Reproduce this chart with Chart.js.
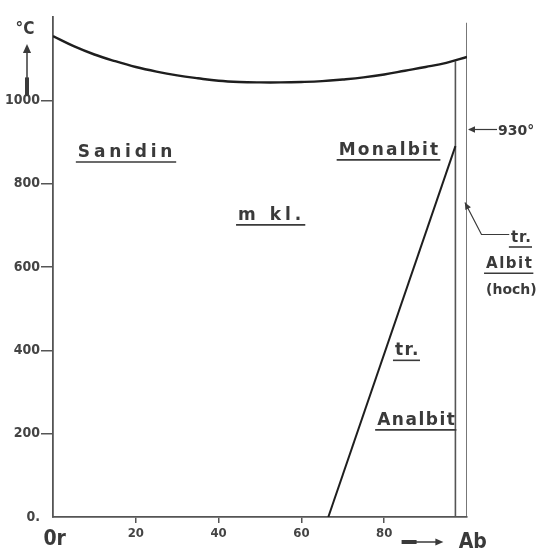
<!DOCTYPE html>
<html>
<head>
<meta charset="utf-8">
<script src="https://cdn.jsdelivr.net/npm/chart.js@4.4.1/dist/chart.umd.min.js"></script>
<style>
  html, body { margin: 0; padding: 0; background: #fff; }
  #wrap { width: 540px; height: 549px; position: relative; }
</style>
</head>
<body>
<div id="wrap"><canvas id="phase-chart"></canvas></div>
<script>
// --- DATA ---
const tempTicks = [0, 200, 400, 600, 800, 1000];
const compTicks = [20, 40, 60, 80];

// upper boundary curve across the diagram
const upperComp = [0, 5, 10, 15, 20, 25, 30, 35, 40, 45, 50, 55, 60, 65, 70, 75, 80, 85, 90, 95, 100];
const upperTemp = [1154, 1130, 1110, 1094, 1080, 1069, 1060, 1053, 1047, 1044, 1043, 1043, 1044, 1046, 1050, 1055, 1062, 1071, 1080, 1090, 1104];

// monoclinic / triclinic transition
const transComp = [66.5, 97.2];
const transTemp = [0, 890];

// high albit field borders
const innerComp = [97.2, 97.2];
const innerTemp = [0, 1094];
const outerComp = [100, 100];
const outerTemp = [0, 1186];

// --- HELPERS ---
function toPoints(xs, ys) {
    return xs.map((x, i) => ({ x: x, y: ys[i] }));
}

function lineSet(xs, ys, color, width, tension) {
    return {
        data: toPoints(xs, ys),
        showLine: true,
        borderColor: color,
        borderWidth: width,
        pointRadius: 0,
        tension: tension || 0,
        fill: false
    };
}

function arrowHead(ctx, x, y, angle, size) {
    ctx.save();
    ctx.translate(x, y);
    ctx.rotate(angle);
    ctx.beginPath();
    ctx.moveTo(0, 0);
    ctx.lineTo(-size, -size * 0.45);
    ctx.lineTo(-size, size * 0.45);
    ctx.closePath();
    ctx.fill();
    ctx.restore();
}

// labels placed in data units (composition, temperature)
const fieldLabels = [
    { text: 'Sanidin', x: 6.0, y: 864, size: 17, spacing: 3.8, line: true },
    { text: 'm kl.', x: 44.7, y: 713, size: 17, spacing: 4, line: true },
    { text: 'Monalbit', x: 69.0, y: 869, size: 17, spacing: 2.2, line: true },
    { text: 'tr.', x: 82.6, y: 388, size: 17, spacing: 1.5, line: true },
    { text: 'Analbit', x: 78.3, y: 221, size: 17, spacing: 1.5, line: true },
    { text: '930°', x: 107.5, y: 917, size: 14, spacing: 0, line: false },
    { text: 'tr.', x: 110.6, y: 660, size: 15, spacing: 1, line: true },
    { text: 'Albit', x: 104.6, y: 597, size: 15, spacing: 1.5, line: true },
    { text: '(hoch)', x: 104.6, y: 535, size: 14, spacing: 0, line: false }
];

const annotationPlugin = {
    id: 'annotations',
    afterDraw(chart) {
        const ctx = chart.ctx;
        const xs = chart.scales.x;
        const ys = chart.scales.y;
        const ink = '#3a3a3a';
        ctx.save();
        ctx.fillStyle = ink;
        ctx.strokeStyle = ink;
        ctx.textBaseline = 'alphabetic';
        ctx.textAlign = 'left';

        fieldLabels.forEach(lbl => {
            ctx.font = `bold ${lbl.size}px "DejaVu Sans"`;
            ctx.letterSpacing = lbl.spacing + 'px';
            const px = xs.getPixelForValue(lbl.x);
            const py = ys.getPixelForValue(lbl.y);
            ctx.fillText(lbl.text, px, py);
            if (lbl.line) {
                const w = ctx.measureText(lbl.text).width;
                ctx.lineWidth = 1.6;
                ctx.beginPath();
                ctx.moveTo(px - 2, py + 5);
                ctx.lineTo(px + w, py + 5);
                ctx.stroke();
            }
        });
        ctx.letterSpacing = '0px';

        // 930° pointer
        const outerX = xs.getPixelForValue(100);
        const y930 = ys.getPixelForValue(930);
        ctx.lineWidth = 1.2;
        ctx.beginPath();
        ctx.moveTo(outerX + 2, y930);
        ctx.lineTo(outerX + 30, y930);
        ctx.stroke();
        arrowHead(ctx, outerX + 1, y930, Math.PI, 7);

        // tr. Albit (hoch) leader
        const tipX = xs.getPixelForValue(99.5);
        const tipY = ys.getPixelForValue(755);
        const kneeX = xs.getPixelForValue(103.5);
        const kneeY = ys.getPixelForValue(678);
        ctx.beginPath();
        ctx.moveTo(tipX, tipY);
        ctx.lineTo(kneeX, kneeY);
        ctx.lineTo(xs.getPixelForValue(110.2), kneeY);
        ctx.stroke();
        arrowHead(ctx, tipX, tipY, Math.atan2(tipY - kneeY, tipX - kneeX), 7);

        // °C and upward arrow
        const axisX = xs.left;
        ctx.font = 'bold 17px "DejaVu Sans Condensed"';
        ctx.textAlign = 'center';
        ctx.fillText('°C', axisX - 28, ys.getPixelForValue(1160));
        const arrX = axisX - 26;
        ctx.lineWidth = 1.5;
        ctx.beginPath();
        ctx.moveTo(arrX, ys.getPixelForValue(1010));
        ctx.lineTo(arrX, ys.getPixelForValue(1115));
        ctx.stroke();
        ctx.lineWidth = 4;
        ctx.beginPath();
        ctx.moveTo(arrX, ys.getPixelForValue(1012));
        ctx.lineTo(arrX, ys.getPixelForValue(1055));
        ctx.stroke();
        arrowHead(ctx, arrX, ys.getPixelForValue(1135), -Math.PI / 2, 9);

        // Or ... Ab along the base
        const baseY = xs.top;
        ctx.textAlign = 'left';
        ctx.font = 'bold 21px "DejaVu Sans Condensed"';
        ctx.fillText('0r', xs.getPixelForValue(-2.3), baseY + 28);
        ctx.font = 'bold 21px "DejaVu Sans Condensed"';
        ctx.fillText('Ab', xs.getPixelForValue(98.0), baseY + 31);
        const a0 = xs.getPixelForValue(84.2);
        const a1 = xs.getPixelForValue(94.3);
        const ay = baseY + 25;
        ctx.lineWidth = 4;
        ctx.beginPath();
        ctx.moveTo(a0, ay);
        ctx.lineTo(a0 + 15, ay);
        ctx.stroke();
        ctx.lineWidth = 1.5;
        ctx.beginPath();
        ctx.moveTo(a0 + 14, ay);
        ctx.lineTo(a1 - 4, ay);
        ctx.stroke();
        arrowHead(ctx, a1, ay, 0, 8);

        ctx.restore();
    }
};

// --- CHART ---
const chartCanvas = document.getElementById('phase-chart');

new Chart(chartCanvas, {
    type: 'scatter',
    data: {
        datasets: [
            lineSet(upperComp, upperTemp, '#1e1e1e', 2.4, 0.4),
            lineSet(transComp, transTemp, '#1e1e1e', 2.0),
            lineSet(innerComp, innerTemp, '#555', 1.6),
            lineSet(outerComp, outerTemp, '#555', 1.6)
        ]
    },
    options: {
        responsive: true,
        maintainAspectRatio: false,
        animation: false,
        layout: { padding: { top: 17, right: 73, left: 0, bottom: 0 } },
        plugins: {
            legend: { display: false },
            tooltip: { enabled: false }
        },
        scales: {
            x: {
                type: 'linear',
                min: 0,
                max: 100,
                afterFit: scale => { scale.height = 32; },
                afterBuildTicks: scale => { scale.ticks = compTicks.map(v => ({ value: v })); },
                grid: { display: true, drawOnChartArea: false, drawTicks: true, tickLength: 6, color: '#555', lineWidth: 1.5 },
                border: { display: true, color: '#555', width: 1.8 },
                ticks: { color: '#444', padding: 3, font: { family: '"DejaVu Sans Condensed"', size: 13, weight: 'bold' } }
            },
            y: {
                type: 'linear',
                min: 0,
                max: 1200,
                afterFit: scale => { scale.width = 53; },
                afterBuildTicks: scale => { scale.ticks = tempTicks.map(v => ({ value: v })); },
                grid: {
                    display: true, drawOnChartArea: false, drawTicks: true, tickLength: 12, lineWidth: 1.5,
                    tickColor: c => (c.tick && c.tick.value === 0 ? 'rgba(0,0,0,0)' : '#555')
                },
                border: { display: true, color: '#555', width: 1.8 },
                ticks: {
                    color: '#444',
                    padding: 1,
                    font: { family: '"DejaVu Sans Condensed"', size: 14, weight: 'bold' },
                    callback: v => (v === 0 ? '0.' : String(v))
                }
            }
        }
    },
    plugins: [annotationPlugin]
});
</script>
</body>
</html>
